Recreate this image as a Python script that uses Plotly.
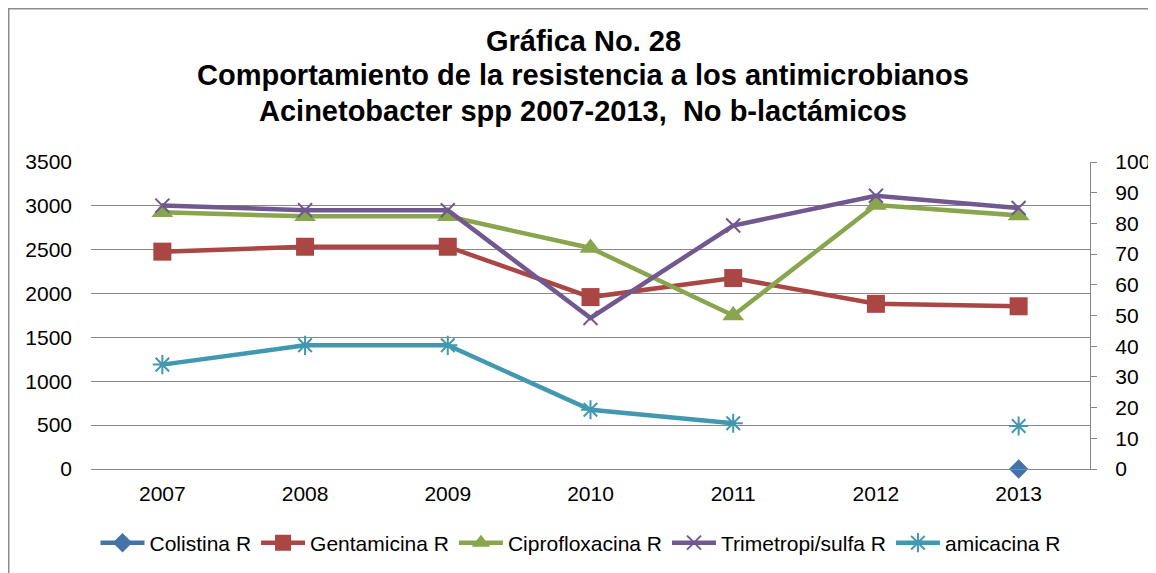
import plotly.graph_objects as go

years = ["2007", "2008", "2009", "2010", "2011", "2012", "2013"]
colistina = [None, None, None, None, None, None, 0]
gentamicina = [70.8, 72.4, 72.4, 56, 62.2, 53.8, 53]
ciprofloxacina = [83.6, 82.3, 82.3, 72, 50, 86, 82.6]
trimetropi = [85.8, 84.3, 84.3, 49.2, 79.3, 89, 85]
amicacina = [34, 40.3, 40.3, 19.3, 14.9, None, 14]

left_ticks = [0, 500, 1000, 1500, 2000, 2500, 3000, 3500]
right_ticks = [0, 10, 20, 30, 40, 50, 60, 70, 80, 90, 100]

title_lines = ["Gráfica No. 28",
               "Comportamiento de la resistencia a los antimicrobianos",
               "Acinetobacter spp 2007-2013,  No b-lactámicos"]

series = [
    ("Colistina R", colistina, "#4572A7", "diamond", 15, 0),
    ("Gentamicina R", gentamicina, "#AA4643", "square", 18, 0),
    ("Ciprofloxacina R", ciprofloxacina, "#89A54E", "triangle-up", 19, 0),
    ("Trimetropi/sulfa R", trimetropi, "#71588F", "x-thin-open", 14, 2),
    ("amicacina R", amicacina, "#4198AF", "asterisk-open", 16, 2),
]

fig = go.Figure()
# empty trace that only anchors the left (count) axis so it is drawn
fig.add_trace(go.Scatter(x=years, y=[None] * len(years), yaxis="y",
                         showlegend=False, hoverinfo="skip", mode="lines"))
for name, vals, color, sym, size, lw in series:
    fig.add_trace(go.Scatter(
        x=years, y=vals, name=name, mode="lines+markers",
        yaxis="y2", connectgaps=False, cliponaxis=False,
        line=dict(color=color, width=4.5),
        marker=dict(symbol=sym, size=size, color=color,
                    line=dict(color=color, width=lw)),
    ))

grid = "#888888"
font = "Liberation Sans, Arial, sans-serif"

# figure geometry (page has an 8px body margin)
W, H = 1148, 565
L, T, PH, PW = 83, 154, 307, 999
bottom = T + PH

annotations = []
for line, yc in zip(title_lines, [33, 67, 103]):
    annotations.append(dict(
        text="<b>%s</b>" % line, xref="paper", yref="paper",
        x=(575 - L) / PW, y=(bottom - yc) / PH, xanchor="center",
        yanchor="middle", showarrow=False,
        font=dict(family=font, size=29, color="black")))

fig.update_layout(
    width=W, height=H,
    margin=dict(l=L, r=W - L - PW, t=T, b=H - bottom, autoexpand=False),
    paper_bgcolor="white", plot_bgcolor="white",
    font=dict(family=font, size=21, color="black"),
    annotations=annotations,
    xaxis=dict(type="category", range=[-0.5, 6.5], showgrid=False,
               showline=True, linecolor=grid, linewidth=1.3, ticks="",
               tickfont=dict(size=21), ticklabelstandoff=6),
    yaxis=dict(range=[0, 3500], tickvals=left_ticks, showgrid=True,
               gridcolor=grid, gridwidth=1.3, zeroline=False, showline=False,
               ticks="", tickfont=dict(size=21), ticklabelstandoff=18),
    yaxis2=dict(range=[0, 100], tickvals=right_ticks, overlaying="y",
                side="right", showgrid=False, zeroline=False, showline=True,
                linecolor=grid, linewidth=1.3, ticks="outside", ticklen=6,
                tickcolor=grid, tickwidth=1.3, tickfont=dict(size=21),
                ticklabelstandoff=14),
    legend=dict(orientation="h", x=0.49, xanchor="center",
                y=(bottom - 535) / PH, yanchor="middle",
                font=dict(size=21), itemwidth=44,
                tracegroupgap=0, bgcolor="rgba(0,0,0,0)"),
    showlegend=True,
    shapes=[dict(type="rect", xref="paper", yref="paper",
                 x0=(0.75 - L) / PW, x1=(1300 - L) / PW,
                 y0=(bottom - 700) / PH, y1=(bottom - 0.75) / PH,
                 line=dict(color="#8c8c8c", width=1.5), layer="below")],
)

fig.write_html("out.html")
